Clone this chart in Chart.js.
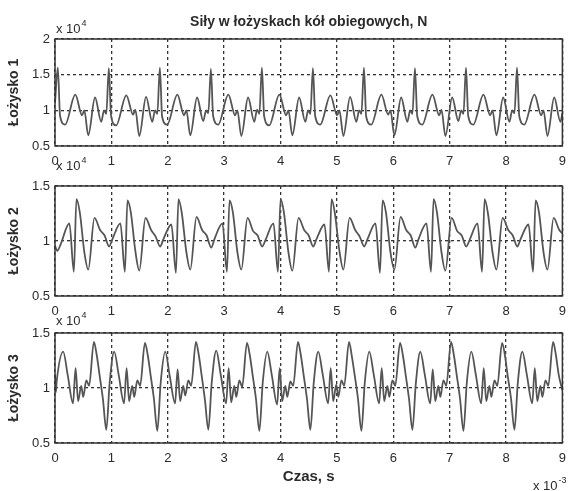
<!DOCTYPE html>
<html>
<head>
<meta charset="utf-8">
<script src="https://cdn.jsdelivr.net/npm/chart.js@4.4.1/dist/chart.umd.min.js"></script>
<style>
  html, body { margin: 0; padding: 0; background: #fff; }
  #wrap { position: relative; width: 574px; height: 491px; overflow: hidden; }
  #wrap canvas { position: absolute; left: 0; }
</style>
</head>
<body>
<div id="wrap">
  <canvas id="bearing1" width="574" height="170" style="top:0"></canvas>
  <canvas id="bearing2" width="574" height="166" style="top:150px"></canvas>
  <canvas id="bearing3" width="574" height="191" style="top:300px"></canvas>
</div>
<script>
// time axis in ms (x 10^-3 s), force in 10^4 N

const t1 = [0, 0.05, 0.09, 0.18, 0.36, 0.48, 0.52, 0.59, 0.71, 0.82, 0.87, 0.91,
  0.955, 0.995, 1.085, 1.265, 1.385, 1.425, 1.495, 1.615, 1.725, 1.775, 1.815,
  1.86, 1.90, 1.99, 2.17, 2.29, 2.33, 2.40, 2.52, 2.63, 2.68, 2.72,
  2.765, 2.805, 2.895, 3.075, 3.195, 3.235, 3.305, 3.425, 3.535, 3.585, 3.625,
  3.67, 3.71, 3.80, 3.98, 4.10, 4.14, 4.21, 4.33, 4.44, 4.49, 4.53,
  4.575, 4.615, 4.705, 4.885, 5.005, 5.045, 5.115, 5.235, 5.345, 5.395, 5.435,
  5.48, 5.52, 5.61, 5.79, 5.91, 5.95, 6.02, 6.14, 6.25, 6.30, 6.34,
  6.385, 6.425, 6.515, 6.695, 6.815, 6.855, 6.925, 7.045, 7.155, 7.205, 7.245,
  7.29, 7.33, 7.42, 7.60, 7.72, 7.76, 7.83, 7.95, 8.06, 8.11, 8.15,
  8.195, 8.235, 8.325, 8.505, 8.625, 8.665, 8.735, 8.855, 8.965, 9.0];
const f1 = [1.10, 1.60, 0.92, 0.80, 1.22, 0.93, 1.00, 0.65, 1.18, 0.84, 1.00, 0.95,
  1.59, 0.92, 0.79, 1.21, 0.94, 1.01, 0.64, 1.19, 0.84, 1.00, 0.95,
  1.60, 0.91, 0.80, 1.22, 0.93, 1.00, 0.65, 1.18, 0.85, 1.00, 0.96,
  1.58, 0.92, 0.80, 1.22, 0.93, 1.00, 0.64, 1.18, 0.84, 1.01, 0.95,
  1.60, 0.92, 0.79, 1.22, 0.93, 1.00, 0.65, 1.18, 0.84, 1.00, 0.95,
  1.59, 0.92, 0.80, 1.21, 0.93, 1.00, 0.64, 1.19, 0.84, 1.00, 0.95,
  1.60, 0.91, 0.80, 1.22, 0.94, 1.00, 0.65, 1.18, 0.84, 1.00, 0.95,
  1.59, 0.92, 0.80, 1.22, 0.93, 1.01, 0.64, 1.18, 0.85, 1.00, 0.95,
  1.60, 0.92, 0.80, 1.22, 0.93, 1.00, 0.65, 1.18, 0.84, 1.00, 0.96,
  1.60, 0.92, 0.80, 1.22, 0.93, 1.00, 0.64, 1.18, 0.84, 0.96];

const t2 = [0, 0.04, 0.10, 0.255, 0.335,
  0.38, 0.44, 0.52, 0.59, 0.70, 0.80, 0.88, 0.96, 1.02, 1.16, 1.24,
  1.285, 1.345, 1.425, 1.495, 1.605, 1.705, 1.785, 1.865, 1.925, 2.065, 2.145,
  2.19, 2.25, 2.33, 2.40, 2.51, 2.61, 2.69, 2.77, 2.83, 2.97, 3.05,
  3.095, 3.155, 3.235, 3.305, 3.415, 3.515, 3.595, 3.675, 3.735, 3.875, 3.955,
  4.0, 4.06, 4.14, 4.21, 4.32, 4.42, 4.50, 4.58, 4.64, 4.78, 4.86,
  4.905, 4.965, 5.045, 5.115, 5.225, 5.325, 5.405, 5.485, 5.545, 5.685, 5.765,
  5.81, 5.87, 5.95, 6.02, 6.13, 6.23, 6.31, 6.39, 6.45, 6.59, 6.67,
  6.715, 6.775, 6.855, 6.925, 7.035, 7.135, 7.215, 7.295, 7.355, 7.495, 7.575,
  7.62, 7.68, 7.76, 7.83, 7.94, 8.04, 8.12, 8.20, 8.26, 8.40, 8.48,
  8.525, 8.585, 8.665, 8.735, 8.845, 8.945, 9.0];
const f2 = [0.96, 0.91, 0.97, 1.16, 0.72,
  1.38, 1.26, 0.90, 0.74, 1.21, 1.10, 1.05, 0.95, 1.02, 1.16, 0.72,
  1.37, 1.26, 0.91, 0.73, 1.21, 1.10, 1.04, 0.95, 1.02, 1.15, 0.71,
  1.38, 1.25, 0.90, 0.74, 1.22, 1.10, 1.05, 0.94, 1.02, 1.16, 0.72,
  1.37, 1.26, 0.90, 0.74, 1.21, 1.09, 1.05, 0.95, 1.01, 1.16, 0.72,
  1.38, 1.26, 0.90, 0.73, 1.21, 1.10, 1.05, 0.95, 1.02, 1.15, 0.72,
  1.38, 1.25, 0.91, 0.74, 1.21, 1.10, 1.04, 0.95, 1.02, 1.16, 0.71,
  1.37, 1.26, 0.90, 0.74, 1.22, 1.10, 1.05, 0.94, 1.02, 1.16, 0.72,
  1.38, 1.26, 0.90, 0.73, 1.21, 1.09, 1.05, 0.95, 1.01, 1.16, 0.72,
  1.38, 1.25, 0.90, 0.74, 1.21, 1.10, 1.05, 0.95, 1.02, 1.15, 0.72,
  1.37, 1.26, 0.90, 0.74, 1.21, 1.10, 1.07];

const t3 = [0, 0.015, 0.03, 0.145, 0.225, 0.32, 0.365, 0.41, 0.465, 0.50, 0.555, 0.605,
  0.69, 0.74, 0.79, 0.85, 0.91, 0.97, 1.05, 1.13, 1.225, 1.27, 1.315, 1.37, 1.405, 1.46, 1.51,
  1.595, 1.645, 1.695, 1.755, 1.815, 1.875, 1.955, 2.035, 2.13, 2.175, 2.22, 2.275, 2.31, 2.365, 2.415,
  2.5, 2.55, 2.60, 2.66, 2.72, 2.78, 2.86, 2.94, 3.035, 3.08, 3.125, 3.18, 3.215, 3.27, 3.32,
  3.405, 3.455, 3.505, 3.565, 3.625, 3.685, 3.765, 3.845, 3.94, 3.985, 4.03, 4.085, 4.12, 4.175, 4.225,
  4.31, 4.36, 4.41, 4.47, 4.53, 4.59, 4.67, 4.75, 4.845, 4.89, 4.935, 4.99, 5.025, 5.08, 5.13,
  5.215, 5.265, 5.315, 5.375, 5.435, 5.495, 5.575, 5.655, 5.75, 5.795, 5.84, 5.895, 5.93, 5.985, 6.035,
  6.12, 6.17, 6.22, 6.28, 6.34, 6.40, 6.48, 6.56, 6.655, 6.70, 6.745, 6.80, 6.835, 6.89, 6.94,
  7.025, 7.075, 7.125, 7.185, 7.245, 7.305, 7.385, 7.465, 7.56, 7.605, 7.65, 7.705, 7.74, 7.795, 7.845,
  7.93, 7.98, 8.03, 8.09, 8.15, 8.21, 8.29, 8.37, 8.465, 8.51, 8.555, 8.61, 8.645, 8.70, 8.75,
  8.835, 8.885, 8.935, 9.0];
const f3 = [1.12, 0.96, 1.06, 1.33, 1.12, 0.86, 1.18, 0.88, 1.02, 0.92, 1.07, 1.02,
  1.42, 1.30, 1.12, 0.90, 0.62, 1.05, 1.33, 1.12, 0.86, 1.18, 0.88, 1.02, 0.92, 1.07, 1.02,
  1.41, 1.30, 1.12, 0.90, 0.61, 1.05, 1.33, 1.11, 0.86, 1.17, 0.88, 1.02, 0.93, 1.07, 1.02,
  1.42, 1.30, 1.12, 0.89, 0.62, 1.05, 1.34, 1.12, 0.86, 1.18, 0.87, 1.02, 0.92, 1.07, 1.01,
  1.41, 1.30, 1.12, 0.90, 0.61, 1.05, 1.33, 1.12, 0.85, 1.18, 0.88, 1.02, 0.92, 1.06, 1.02,
  1.42, 1.30, 1.12, 0.90, 0.62, 1.05, 1.33, 1.12, 0.86, 1.18, 0.88, 1.03, 0.92, 1.07, 1.02,
  1.42, 1.29, 1.12, 0.90, 0.61, 1.05, 1.33, 1.12, 0.86, 1.18, 0.88, 1.02, 0.92, 1.07, 1.02,
  1.41, 1.30, 1.12, 0.90, 0.62, 1.04, 1.33, 1.12, 0.86, 1.17, 0.88, 1.02, 0.92, 1.07, 1.02,
  1.42, 1.30, 1.12, 0.90, 0.61, 1.05, 1.33, 1.12, 0.86, 1.18, 0.88, 1.02, 0.92, 1.07, 1.02,
  1.41, 1.30, 1.11, 0.90, 0.62, 1.05, 1.33, 1.12, 0.86, 1.18, 0.88, 1.02, 0.92, 1.07, 1.02,
  1.42, 1.30, 1.12, 0.98];

const xTicks = [0, 1, 2, 3, 4, 5, 6, 7, 8, 9];
const panelLabels = ['Łożysko 1', 'Łożysko 2', 'Łożysko 3'];
const yRanges = [[0.5, 2], [0.5, 1.5], [0.5, 1.5]];

const FONT = "'Liberation Sans', Arial, Helvetica, sans-serif";
const INK = '#2b2b2b';
const TRACE = '#555555';
const GRID = { color: '#333', lineWidth: 1.3, borderDash: [3, 3] };

// box around plot area plus the free text (title, exponent markers)
const decor = {
  id: 'decor',
  afterDraw(chart, args, opts) {
    const { ctx, chartArea: a } = chart;
    ctx.save();
    ctx.strokeStyle = '#333';
    ctx.lineWidth = 1.5;
    ctx.setLineDash([]);
    ctx.strokeRect(a.left, a.top, a.right - a.left, a.bottom - a.top);

    ctx.fillStyle = INK;
    ctx.textBaseline = 'alphabetic';
    ctx.textAlign = 'left';
    // "x 10^4" multiplier above the y axis
    ctx.font = `13px ${FONT}`;
    ctx.fillText('x 10', a.left + 1, a.top - opts.expGap);
    const w = ctx.measureText('x 10').width;
    ctx.font = `9px ${FONT}`;
    ctx.fillText('4', a.left + 2 + w, a.top - opts.expGap - 7);

    if (opts.title) {
      ctx.font = `bold 14px ${FONT}`;
      ctx.textAlign = 'center';
      ctx.fillText(opts.title, (a.left + a.right) / 2, 26);
    }
    if (opts.timeExp) {
      ctx.font = `13px ${FONT}`;
      ctx.textAlign = 'left';
      const y = chart.height - 1;
      ctx.fillText('x 10', 533, y);
      const w2 = ctx.measureText('x 10').width;
      ctx.font = `9px ${FONT}`;
      ctx.fillText('-3', 534 + w2, y - 7);
    }
    ctx.restore();
  },
};

function makePanel(id, times, forces, i, cfg) {
  const [yMin, yMax] = yRanges[i];
  const points = times.map((t, k) => ({ x: t, y: forces[k] }));
  return new Chart(document.getElementById(id), {
    type: 'line',
    data: {
      datasets: [{
        data: points,
        borderColor: TRACE,
        borderWidth: 1.8,
        pointRadius: 0,
        fill: false,
        cubicInterpolationMode: 'monotone',
      }],
    },
    options: {
      responsive: false,
      animation: false,
      events: [],
      layout: { padding: { top: cfg.padTop, right: 7, left: 0, bottom: 0 } },
      plugins: {
        legend: { display: false },
        tooltip: { enabled: false },
        decor: { expGap: cfg.expGap, title: cfg.title, timeExp: cfg.timeExp },
      },
      scales: {
        x: {
          type: 'linear',
          min: 0,
          max: 9,
          afterBuildTicks: s => { s.ticks = xTicks.map(v => ({ value: v })); },
          afterFit: s => { s.height = cfg.xHeight; },
          ticks: { color: INK, font: { family: FONT, size: 13 }, padding: 8, maxRotation: 0, callback: v => String(v) },
          grid: { ...GRID, drawTicks: false },
          border: { display: false, dash: [3, 3] },
          title: cfg.xTitle
            ? { display: true, text: cfg.xTitle, color: INK, font: { family: FONT, size: 15, weight: 'bold' }, padding: { top: 0, bottom: 5 } }
            : { display: false },
        },
        y: {
          min: yMin,
          max: yMax,
          afterFit: s => { s.width = 55; },
          ticks: { stepSize: 0.5, color: INK, font: { family: FONT, size: 13 }, padding: 5, callback: v => String(v) },
          grid: { ...GRID, drawTicks: false },
          border: { display: false, dash: [3, 3] },
          title: {
            display: true,
            text: panelLabels[i],
            color: INK,
            font: { family: FONT, size: 14, weight: 'bold' },
            padding: { top: 6, bottom: 0 },
          },
        },
      },
    },
    plugins: [decor],
  });
}

makePanel('bearing1', t1, f1, 0, { padTop: 39, xHeight: 24, expGap: 6, title: 'Siły w łożyskach kół obiegowych, N' });
makePanel('bearing2', t2, f2, 1, { padTop: 36, xHeight: 20, expGap: 16 });
makePanel('bearing3', t3, f3, 2, { padTop: 33, xHeight: 48, expGap: 8, xTitle: 'Czas, s', timeExp: true });
</script>
</body>
</html>
